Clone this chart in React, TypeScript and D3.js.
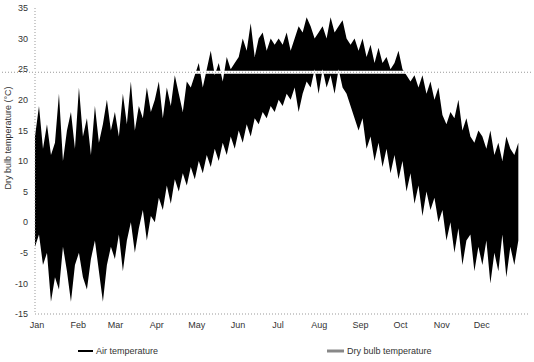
import React, { useEffect, useRef } from 'react';
import * as d3 from 'd3';

const months = ['Jan', 'Feb', 'Mar', 'Apr', 'May', 'Jun', 'Jul', 'Aug', 'Sep', 'Oct', 'Nov', 'Dec'];
const monthStartDays = [0, 31, 59, 90, 120, 151, 181, 212, 243, 273, 304, 334];
const yTicks = [-15, -10, -5, 0, 5, 10, 15, 20, 25, 30, 35];

// one reading every 3 days, Jan 1 .. Dec 30
const sampleDays = d3.range(0, 366, 3);

const dailyMax = [
  14, 19, 12, 16, 11, 13, 21, 10, 15, 18, 12, // Jan
  22, 14, 17, 11, 19, 13, 16, 20, 15, // Feb
  18, 14, 21, 16, 23, 15, 19, 17, 22, 18, // Mar
  20, 23, 17, 22, 19, 24, 21, 18, 23, 22, // Apr
  24, 26, 22, 25, 28, 24, 26, 23, 27, 25, 26, // May
  27, 30, 28, 32.5, 27, 30, 31, 28, 30, 29, // Jun
  30, 29, 31, 28, 30, 32, 31, 33.5, 32, 30, // Jul
  31, 32, 30, 33.5, 31, 32, 33, 30, 29, 30, // Aug
  28, 30, 27, 29, 26, 28.5, 26, 27, 25, 26, // Sep
  28, 25, 24, 23, 24, 22, 24, 21, 23, 20, 22, // Oct
  17.5, 16, 18, 17, 20, 15, 17, 14, 13, 15, // Nov
  14, 12, 15, 11, 13, 10, 14, 12, 11, 13 // Dec
];

const dailyMin = [
  -4, -2, -7, -5, -13, -9, -11, -4, -8, -13, -7, // Jan
  -5, -9, -11, -6, -3, -8, -13, -7, -4, // Feb
  -6, -2, -8, -3, 0, -5, -1, 2, -3, 1, // Mar
  0, 4, 2, 6, 3, 7, 5, 8, 6, 9, // Apr
  7, 10, 8, 11, 9, 12, 10, 13, 11, 14, 12, // May
  15, 13, 16, 14, 17, 16, 18, 17, 19, 18, // Jun
  20, 19, 21, 20, 22, 18, 21, 23, 22, 25, // Jul
  21, 25, 22, 24, 21, 25, 22, 21, 19, 17, // Aug
  15, 17, 12, 14, 10, 13, 9, 12, 8, 11, // Sep
  7, 10, 5, 8, 3, 6, 1, 5, 2, 4, 0, // Oct
  2, -3, 0, -5, -1, -7, -3, -2, -8, -4, // Nov
  -7, -3, -10, -5, -8, -2, -9, -4, -7, -3 // Dec
];

const dryBulbLevel = 24.5;

const legendItems = ['Air temperature', 'Dry bulb temperature'];

export default function App() {
  const node = useRef<SVGSVGElement | null>(null);
  const width = 534;
  const height = 362;

  useEffect(() => {
    const svg = d3.select(node.current);
    svg.selectAll('*').remove();

    const x = d3.scaleLinear().domain([0, 365]).range([35, 521]);
    const y = d3.scaleLinear().domain([-15, 35]).range([314, 8]);

    const rows = sampleDays.map((d, i) => ({ day: d, hi: dailyMax[i], lo: dailyMin[i] }));

    const area = d3
      .area<{ day: number; hi: number; lo: number }>()
      .x((d) => x(d.day))
      .y0((d) => y(d.lo))
      .y1((d) => y(d.hi));

    svg.append('path').datum(rows).attr('d', area).attr('fill', '#000');

    // axes, drawn as dotted grey lines like the scan
    svg
      .append('line')
      .attr('x1', 35)
      .attr('x2', 35)
      .attr('y1', y(35))
      .attr('y2', y(-15))
      .attr('stroke', '#999')
      .attr('stroke-dasharray', '1,2');
    svg
      .append('line')
      .attr('x1', 35)
      .attr('x2', 530)
      .attr('y1', y(-15))
      .attr('y2', y(-15))
      .attr('stroke', '#999')
      .attr('stroke-dasharray', '1,2');

    // constant dry bulb line across the whole figure
    svg
      .append('line')
      .attr('x1', 2)
      .attr('x2', 532)
      .attr('y1', y(dryBulbLevel))
      .attr('y2', y(dryBulbLevel))
      .attr('stroke', '#fff')
      .attr('stroke-width', 3);
    svg
      .append('line')
      .attr('x1', 2)
      .attr('x2', 532)
      .attr('y1', y(dryBulbLevel))
      .attr('y2', y(dryBulbLevel))
      .attr('stroke', '#999')
      .attr('stroke-dasharray', '1,2');

    const font = 'Arial, "Liberation Sans", sans-serif';

    svg
      .selectAll('.ytick')
      .data(yTicks)
      .enter()
      .append('text')
      .attr('class', 'ytick')
      .attr('x', 28)
      .attr('y', (d) => y(d))
      .attr('dy', '0.35em')
      .attr('text-anchor', 'end')
      .style('font', '9px ' + font)
      .style('fill', '#333')
      .text((d) => d);

    svg
      .selectAll('.xtick')
      .data(months)
      .enter()
      .append('text')
      .attr('class', 'xtick')
      .attr('x', (d, i) => x(monthStartDays[i]) + 2)
      .attr('y', 328)
      .attr('text-anchor', 'middle')
      .style('font', '9px ' + font)
      .style('fill', '#333')
      .text((d) => d);

    svg
      .append('text')
      .attr('transform', 'translate(11,138) rotate(-90)')
      .attr('text-anchor', 'middle')
      .style('font', '9px ' + font)
      .style('fill', '#333')
      .text('Dry bulb temperature (°C)');

    // legend
    const legend = svg.append('g');
    legend
      .append('line')
      .attr('x1', 78)
      .attr('x2', 93)
      .attr('y1', 351)
      .attr('y2', 351)
      .attr('stroke', '#000')
      .attr('stroke-width', 2);
    legend
      .append('text')
      .attr('x', 96)
      .attr('y', 354)
      .style('font', '9px ' + font)
      .style('fill', '#333')
      .text(legendItems[0]);
    legend
      .append('line')
      .attr('x1', 327)
      .attr('x2', 344)
      .attr('y1', 351)
      .attr('y2', 351)
      .attr('stroke', '#888')
      .attr('stroke-width', 3);
    legend
      .append('text')
      .attr('x', 347)
      .attr('y', 354)
      .style('font', '9px ' + font)
      .style('fill', '#333')
      .text(legendItems[1]);
  }, []);

  return (
    <svg
      ref={node}
      width={width}
      height={height}
      style={{ position: 'absolute', left: 0, top: 0, background: '#fff' }}
    ></svg>
  );
}
